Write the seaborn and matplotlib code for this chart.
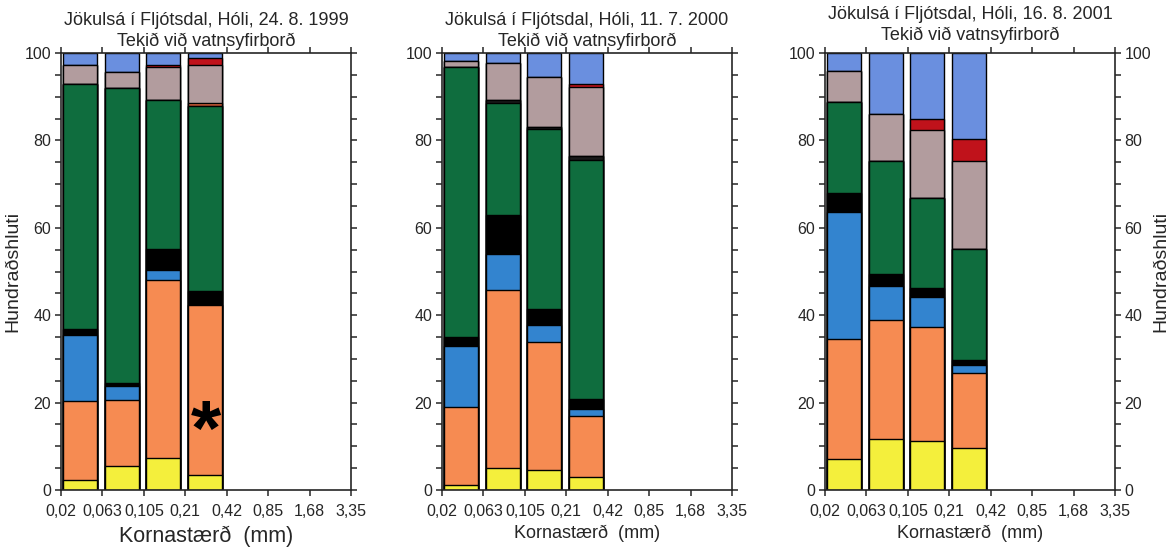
import numpy as np
import pandas as pd
import matplotlib
matplotlib.use("Agg")
import matplotlib.pyplot as plt
from matplotlib.ticker import MultipleLocator, FixedLocator
import seaborn as sns

# ---------------- data ----------------
panel_titles = [
    "Jökulsá í Fljótsdal, Hóli, 24. 8. 1999\nTekið við vatnsyfirborð",
    "Jökulsá í Fljótsdal, Hóli, 11. 7. 2000\nTekið við vatnsyfirborð",
    "Jökulsá í Fljótsdal, Hóli, 16. 8. 2001\nTekið við vatnsyfirborð",
]
size_ticks = ["0,02", "0,063", "0,105", "0,21", "0,42", "0,85", "1,68", "3,35"]
size_classes = ["0,02-0,063", "0,063-0,105", "0,105-0,21", "0,21-0,42"]

# segment percentages, bottom -> top; 4 bars per panel (1999, 2000, 2001)
yellow     = [[2.3, 5.4, 7.4, 3.5],   [1.2, 5.0, 4.5, 3.0],    [7.1, 11.7, 11.2, 9.7]]
orange     = [[18.0, 15.1, 40.7, 38.9], [17.9, 40.8, 29.3, 13.9], [27.5, 27.1, 26.0, 17.1]]
blue       = [[15.1, 3.3, 2.2, 0.0],  [13.9, 8.2, 4.0, 1.7],   [29.1, 7.8, 7.0, 1.9]]
black      = [[1.4, 0.6, 4.9, 3.2],   [1.9, 9.0, 3.6, 2.3],    [4.2, 2.8, 2.0, 1.0]]
green      = [[56.2, 67.7, 34.1, 42.2], [62.0, 25.6, 41.1, 54.7], [20.8, 25.8, 20.6, 25.5]]
dark       = [[0.0, 0.0, 0.0, 0.0],   [0.0, 0.6, 0.5, 0.8],    [0.0, 0.0, 0.0, 0.0]]
orangered  = [[0.0, 0.0, 0.0, 0.7],   [0.0, 0.0, 0.0, 0.0],    [0.0, 0.0, 0.0, 0.0]]
grey       = [[4.3, 3.5, 7.5, 8.7],   [1.2, 8.4, 11.5, 15.8],  [7.1, 10.9, 15.5, 20.2]]
red        = [[0.0, 0.0, 0.4, 1.7],   [0.0, 0.0, 0.0, 0.6],    [0.0, 0.0, 2.6, 5.0]]
lightblue  = [[2.7, 4.4, 2.8, 1.1],   [1.9, 2.4, 5.5, 7.2],    [4.2, 13.9, 15.1, 19.6]]

# annotation: asterisk on the 0,21-0,42 bar of 1999
star_panel, star_size, star_value = 0, "0,21-0,42", 16.5

series = [
    ("yellow", yellow, "#f4ef3c"),
    ("orange", orange, "#f68b52"),
    ("blue", blue, "#3384cf"),
    ("black", black, "#000000"),
    ("green", green, "#0f6d3e"),
    ("dark", dark, "#1a1a1a"),
    ("orangered", orangered, "#d9613b"),
    ("grey", grey, "#b29c9e"),
    ("red", red, "#c0121b"),
    ("lightblue", lightblue, "#6a8fdf"),
]

rows = []
for name, vals, col in series:
    for p in range(3):
        for b in range(4):
            rows.append(dict(panel=p, size=size_classes[b], comp=name, value=vals[p][b]))
df = pd.DataFrame(rows)

# ---------------- figure ----------------
sns.set_style("ticks")
plt.rcParams["font.family"] = ["Liberation Sans", "DejaVu Sans"]
plt.rcParams["axes.linewidth"] = 1.2

fig = plt.figure(figsize=(11.68, 5.47), dpi=100)
lefts = [61 / 1168, 442 / 1168, 825 / 1168]
W = 290 / 1168
B = 57 / 547
H = 437 / 547

comp_order = [s[0] for s in series]
colors = {s[0]: s[2] for s in series}

for p in range(3):
    ax = fig.add_axes([lefts[p], B, W, H])
    d = df[df.panel == p].copy()
    d["comp"] = pd.Categorical(d["comp"], comp_order, ordered=True)
    d = d.sort_values(["size", "comp"])
    d["cum"] = d.groupby("size", sort=False)["value"].cumsum()
    # draw from top component down so lower ones overlay
    for name in reversed(comp_order):
        sub = d[d.comp == name]
        sns.barplot(data=sub, x="size", y="cum", order=size_classes,
                    color=colors[name], edgecolor="black", linewidth=1.0,
                    width=0.82, saturation=1, errorbar=None, ax=ax)
    ax.set_ylim(0, 100)
    ax.set_xlim(-0.47, 6.53)
    ax.xaxis.set_major_locator(FixedLocator(np.arange(8) - 0.47))
    ax.set_xticklabels(size_ticks)
    ax.yaxis.set_major_locator(MultipleLocator(20))
    ax.yaxis.set_minor_locator(MultipleLocator(5))
    ax.tick_params(axis="both", which="both", direction="out", length=4,
                   width=1.1, top=True, right=True, labelsize=11.5, pad=3)
    ax.tick_params(axis="x", pad=6)
    for s in ["top", "right", "left", "bottom"]:
        ax.spines[s].set_visible(True)
    ax.set_title(panel_titles[p], fontsize=13, linespacing=1.3,
                 pad=5 if p < 2 else 9)
    if p == star_panel:
        ax.annotate("*", xy=(size_classes.index(star_size), star_value),
                    xytext=(1, -12), textcoords="offset points",
                    ha="center", va="center", fontsize=56, fontweight="bold",
                    color="black")
    if p == 0:
        ax.set_xlabel("Kornastærð  (mm)", fontsize=15.5, labelpad=5)
        ax.set_ylabel("Hundraðshluti", fontsize=14, labelpad=2)
    else:
        ax.set_xlabel("Kornastærð  (mm)", fontsize=13, labelpad=4)
        ax.set_ylabel("")
    if p == 2:
        ax.tick_params(axis="y", labelright=True)
        ax.yaxis.set_label_position("right")
        ax.set_ylabel("Hundraðshluti", fontsize=14, labelpad=1)

fig.savefig("out.png", dpi=100)
